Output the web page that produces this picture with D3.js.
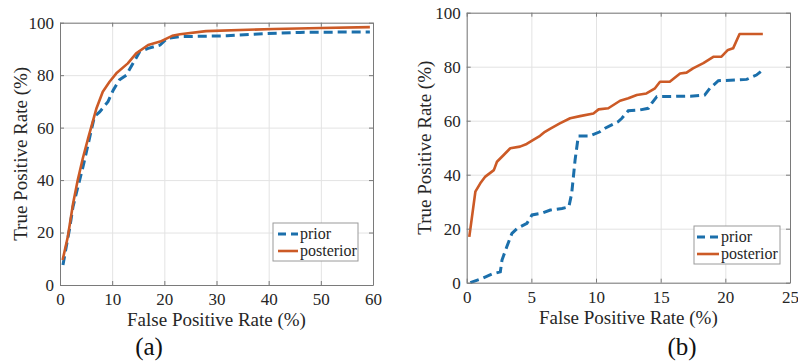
<!DOCTYPE html>
<html>
<head>
<meta charset="utf-8">
<script src="https://cdn.jsdelivr.net/npm/d3@7"></script>
<style>
  body { margin: 0; background: #fff; }
  svg text { fill: #262626; }
  .grid line { stroke: #e3e3e3; stroke-width: 1; }
  .axis path, .axis line { stroke: #7a7a7a; }
</style>
</head>
<body>
<div id="chart"></div>
<script>
// ---- panel (a) ----
const priorAX = [0.57, 1.2, 1.85, 2.5, 3.45, 4.4, 5.0, 6.0, 6.6, 7.6, 9.2, 10.2, 11.4, 12.7, 14, 15.3, 16.9, 19.2, 20.5, 23, 32, 39, 46, 59.4];
const priorAY = [7.6, 14.6, 21.6, 29.9, 37.5, 45, 50.2, 59, 64.2, 66, 69.9, 74.3, 78.2, 80, 84.5, 89, 90.2, 91.5, 94, 94.7, 95, 95.8, 96.3, 96.5];
const postAX = [0.5, 1.5, 2.5, 3.4, 4.4, 5.4, 7.0, 8.2, 9.5, 10.8, 13.0, 14.6, 16.9, 19.2, 21.5, 23, 28, 41, 50, 59.4];
const postAY = [9.5, 18.4, 31, 40, 48.5, 56, 67.4, 73.7, 77.5, 80.7, 84.5, 88.3, 91.5, 92.8, 95, 95.6, 96.8, 97.6, 98, 98.3];
const xTicksA = [0, 10, 20, 30, 40, 50, 60];

// ---- panel (b) ----
const priorBX = [0.28, 1.18, 1.96, 2.6, 2.73, 3.1, 3.5, 3.9, 4.66, 5.05, 5.8, 6.47, 7.37, 7.9, 8.12, 8.38, 8.63, 9.5, 10.3, 10.7, 11.7, 12.0, 12.5, 13.4, 14.05, 14.3, 14.7, 17.3, 18.4, 18.8, 19.46, 21.65, 22.4, 22.9];
const priorBY = [0, 1.6, 3.2, 4, 8.4, 13.3, 18.3, 20.1, 22, 25.1, 25.7, 26.9, 27.5, 28.1, 33.1, 45.4, 54.3, 54.3, 55.9, 57.2, 59.6, 60.9, 63.7, 64, 64.6, 66.4, 68.9, 69.1, 69.5, 72, 74.8, 75.3, 76.9, 78.8];
const postBX = [0.2, 0.67, 1.05, 1.44, 2.1, 2.34, 2.86, 3.37, 4.12, 4.64, 5.15, 5.67, 6.05, 6.44, 7.2, 8.0, 8.76, 9.8, 10.2, 10.95, 11.86, 12.5, 13.15, 13.9, 14.56, 14.95, 15.7, 16.5, 17, 17.5, 18.3, 19.1, 19.7, 20.2, 20.6, 21.1, 22.9];
const postBY = [17, 33.7, 36.8, 39.3, 41.7, 44.8, 47.3, 49.8, 50.4, 51.4, 52.9, 54.4, 55.9, 57, 59, 60.9, 61.7, 62.7, 64.2, 64.6, 67.4, 68.3, 69.5, 70.1, 72, 74.4, 74.4, 77.5, 77.8, 79.4, 81.3, 83.7, 83.7, 86.2, 86.8, 92.1, 92.1];
const xTicksB = [0, 5, 10, 15, 20, 25];

const yTicks = [0, 20, 40, 60, 80, 100];
const seriesNames = ["prior", "posterior"];
const xTitle = "False Positive Rate (%)";
const yTitle = "True Positive Rate (%)";

const colors = { prior: "#1b6fab", posterior: "#cc5a26" };
const serif = "Times New Roman, Times, Liberation Serif, DejaVu Serif, Noto Serif, serif";

const svg = d3.select("#chart").append("svg")
  .attr("width", 798)
  .attr("height", 362);

function zip(xs, ys) {
  return xs.map((x, i) => ({ x: x, y: ys[i] }));
}

function drawPanel(p) {
  const w = p.right - p.left;
  const h = p.bottom - p.top;

  const g = svg.append("g")
    .attr("transform", `translate(${p.left}, ${p.top})`);

  const xScale = d3.scaleLinear().domain([0, p.xMax]).range([0, w]);
  const yScale = d3.scaleLinear().domain([0, 100]).range([h, 0]);

  // grid
  g.append("g").attr("class", "grid")
    .attr("transform", `translate(0, ${h})`)
    .call(d3.axisBottom(xScale).tickValues(p.xTicks).tickSize(-h).tickFormat(""))
    .call(s => s.select(".domain").remove());
  g.append("g").attr("class", "grid")
    .call(d3.axisLeft(yScale).tickValues(yTicks).tickSize(-w).tickFormat(""))
    .call(s => s.select(".domain").remove());

  // lines
  const line = d3.line()
    .x(d => xScale(d.x))
    .y(d => yScale(d.y));

  g.append("path")
    .attr("d", line(p.prior))
    .attr("fill", "none")
    .attr("stroke", colors.prior)
    .attr("stroke-width", 3)
    .attr("stroke-dasharray", "9,5");

  g.append("path")
    .attr("d", line(p.posterior))
    .attr("fill", "none")
    .attr("stroke", colors.posterior)
    .attr("stroke-width", 2.6)
    .attr("stroke-linejoin", "round");

  // axes (box, ticks inward)
  const xb = g.append("g").attr("class", "axis")
    .attr("transform", `translate(0, ${h})`)
    .call(d3.axisBottom(xScale).tickValues(p.xTicks).tickSizeInner(-4).tickSizeOuter(0).tickPadding(8))
    .attr("font-family", serif)
    .attr("font-size", 17);

  const yl = g.append("g").attr("class", "axis")
    .call(d3.axisLeft(yScale).tickValues(yTicks).tickSizeInner(-4).tickSizeOuter(0).tickPadding(6))
    .attr("font-family", serif)
    .attr("font-size", 17);

  g.append("g").attr("class", "axis")
    .call(d3.axisTop(xScale).tickValues(p.xTicks).tickSizeInner(-4).tickSizeOuter(0).tickFormat(""));
  g.append("g").attr("class", "axis")
    .attr("transform", `translate(${w}, 0)`)
    .call(d3.axisRight(yScale).tickValues(yTicks).tickSizeInner(-4).tickSizeOuter(0).tickFormat(""));

  // titles
  svg.append("text")
    .attr("x", p.left + w / 2)
    .attr("y", p.xTitleY)
    .attr("text-anchor", "middle")
    .attr("font-family", serif)
    .attr("font-size", 19)
    .text(xTitle);

  svg.append("text")
    .attr("transform", `translate(${p.yTitleX}, ${p.top + h / 2}) rotate(-90)`)
    .attr("text-anchor", "middle")
    .attr("font-family", serif)
    .attr("font-size", 19)
    .text(yTitle);

  svg.append("text")
    .attr("x", p.tagX)
    .attr("y", 355)
    .attr("text-anchor", "middle")
    .attr("font-family", serif)
    .attr("font-size", 25)
    .style("fill", "#111")
    .text(p.tag);

  // legend
  const lg = svg.append("g").attr("transform", `translate(${p.legend[0]}, ${p.legend[1]})`);
  lg.append("rect")
    .attr("width", p.legend[2]).attr("height", 38)
    .attr("fill", "#fff").attr("stroke", "#9a9a9a").attr("stroke-width", 1);
  seriesNames.forEach((name, i) => {
    const yy = 11 + i * 17;
    lg.append("line")
      .attr("x1", p.legendLine[0]).attr("x2", p.legendLine[1])
      .attr("y1", yy).attr("y2", yy)
      .attr("stroke", colors[name])
      .attr("stroke-width", name === "prior" ? 3 : 2.6)
      .attr("stroke-dasharray", name === "prior" ? "8,5" : null);
    lg.append("text")
      .attr("x", p.legendLine[1] + 2)
      .attr("y", yy + 5)
      .attr("font-family", serif)
      .attr("font-size", 16)
      .text(name);
  });
}

drawPanel({
  left: 60, right: 373, top: 22.7, bottom: 285,
  xMax: 60, xTicks: xTicksA,
  prior: zip(priorAX, priorAY), posterior: zip(postAX, postAY),
  xTitleY: 326, yTitleX: 27, tag: "(a)", tagX: 149,
  legend: [273, 223, 85], legendLine: [5, 25]
});

drawPanel({
  left: 466.7, right: 790, top: 12.7, bottom: 282.7,
  xMax: 25, xTicks: xTicksB,
  prior: zip(priorBX, priorBY), posterior: zip(postBX, postBY),
  xTitleY: 324, yTitleX: 431, tag: "(b)", tagX: 682,
  legend: [694, 226, 86], legendLine: [3, 25]
});
</script>
</body>
</html>
